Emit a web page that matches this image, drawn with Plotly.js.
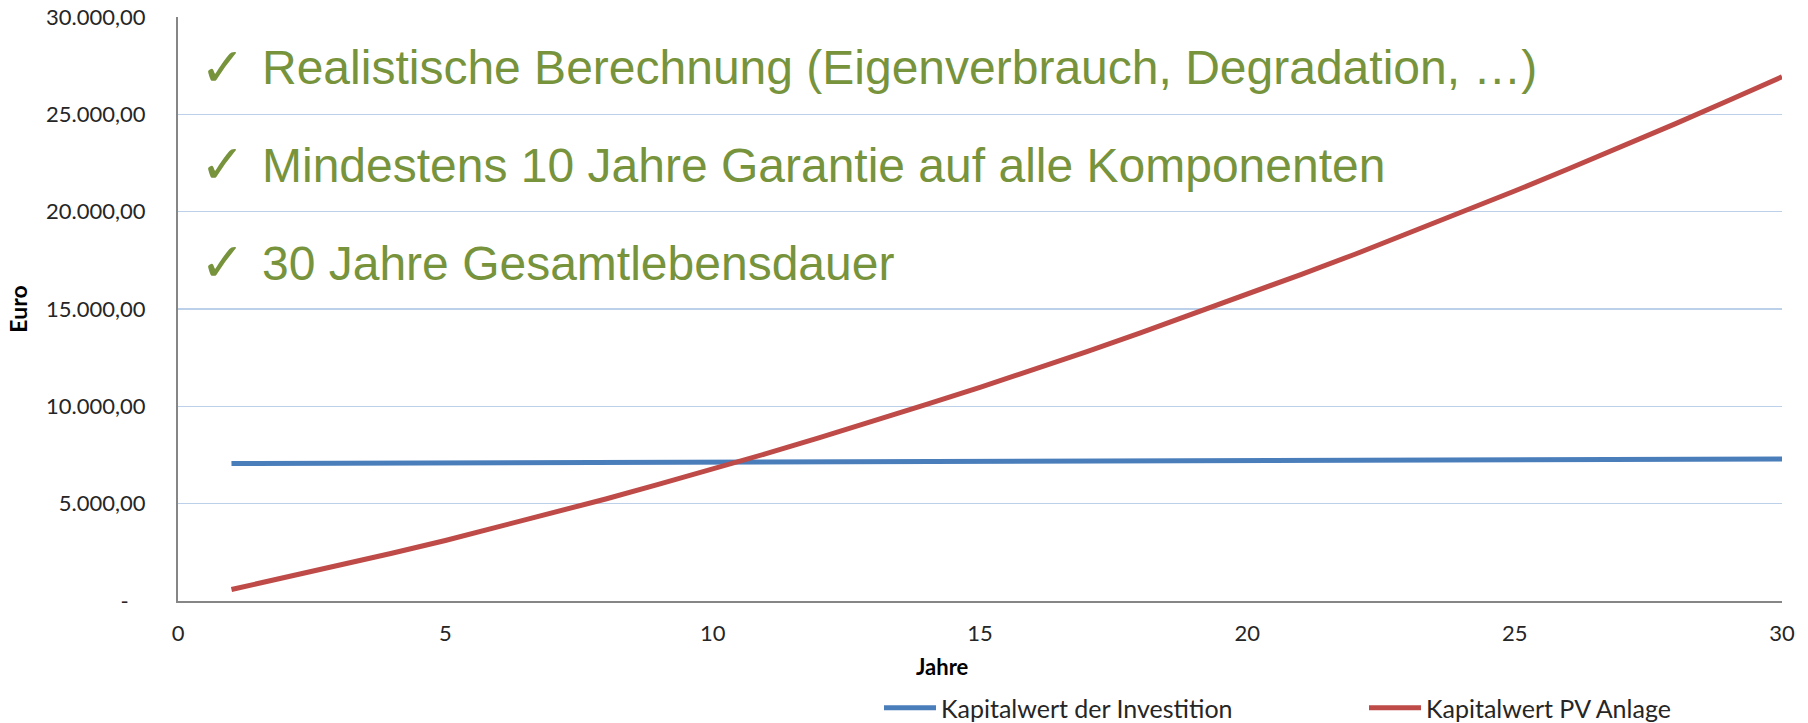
<!DOCTYPE html>
<html>
<head>
<meta charset="utf-8">
<script src="https://cdn.plot.ly/plotly-3.0.1.min.js"></script>
<style>html,body{margin:0;padding:0;background:#fff;}#chart{width:1808px;height:723px;}</style>
</head>
<body>
<div id="chart"></div>
<script>
// Data
var jahre = [1,2,3,4,5,6,7,8,9,10,11,12,13,14,15,16,17,18,19,20,21,22,23,24,25,26,27,28,29,30];
var kapitalwertInvestition = [7060,7068,7075,7083,7091,7099,7106,7114,7122,7130,7137,7145,7153,7161,7168,7176,7184,7192,7199,7207,7215,7223,7230,7238,7246,7254,7261,7269,7277,7290];
var kapitalwertPV = [590,1190,1810,2450,3110,3800,4510,5240,6000,6770,7570,8390,9230,10100,10980,11880,12810,13770,14750,15750,16770,17800,18870,19950,21060,22190,23340,24510,25710,26930];
var seriesNames = ['Kapitalwert der Investition', 'Kapitalwert PV Anlage'];
var yTickVals = [0,5000,10000,15000,20000,25000,30000];
var yTickText = ['-\u00a0\u00a0\u00a0','5.000,00','10.000,00','15.000,00','20.000,00','25.000,00','30.000,00'];
var xTickVals = [0,5,10,15,20,25,30];
var bulletTexts = [
  'Realistische Berechnung (Eigenverbrauch, Degradation, \u2026)',
  'Mindestens 10 Jahre Garantie auf alle Komponenten',
  '30 Jahre Gesamtlebensdauer'
];
var xTitle = 'Jahre';
var yTitle = 'Euro';

var W = 1808, H = 723;
var mL = 178, mR = 26, mT = 17, mB = 122;
var pw = W - mL - mR, ph = H - mT - mB;
function px(x){ return (x - mL) / pw; }
function py(y){ return (H - mB - y) / ph; }

var green = '#77933C';
var tickFont = {family: 'Lato, "Open Sans", sans-serif', size: 22, color: '#262626'};
var legFont = {family: 'Lato, sans-serif', size: 25, color: '#262626'};

var traces = [
  {x: jahre, y: kapitalwertInvestition, type: 'scatter', mode: 'lines', name: seriesNames[0],
   line: {color: '#4A7EBB', width: 5}, legend: 'legend'},
  {x: jahre, y: kapitalwertPV, type: 'scatter', mode: 'lines', name: seriesNames[1],
   line: {color: '#BE4B48', width: 5}, legend: 'legend2'}
];

var annotations = [];
var checkY = [67, 164.5, 262];
var textY = [67.5, 165.5, 263];
for (var i = 0; i < bulletTexts.length; i++) {
  annotations.push({xref: 'paper', yref: 'paper', x: px(222), y: py(checkY[i]), xanchor: 'center', yanchor: 'middle',
    text: '\u2713', showarrow: false, font: {family: '"DejaVu Sans", sans-serif', size: 54, color: green}});
  annotations.push({xref: 'paper', yref: 'paper', x: px(260), y: py(textY[i]), xanchor: 'left', yanchor: 'middle',
    text: bulletTexts[i], showarrow: false, font: {family: '"Liberation Sans", Arial, sans-serif', size: 48, color: green}});
}
annotations.push({xref: 'paper', yref: 'paper', x: px(942), y: py(667), xanchor: 'center', yanchor: 'middle',
  text: '<b>' + xTitle + '</b>', showarrow: false, font: {family: 'Lato, sans-serif', size: 22, color: '#000'}});

var legBase = {orientation: 'h', xanchor: 'left', yanchor: 'middle', y: py(708),
  font: legFont, itemwidth: 52, bgcolor: 'rgba(0,0,0,0)', borderwidth: 0};

var layout = {
  width: W, height: H,
  margin: {l: mL, r: mR, t: mT, b: mB, pad: 0, autoexpand: false},
  paper_bgcolor: '#fff', plot_bgcolor: '#fff',
  showlegend: true,
  legend: Object.assign({}, legBase, {x: px(879)}),
  legend2: Object.assign({}, legBase, {x: px(1364)}),
  xaxis: {range: [0, 30], tickvals: xTickVals, ticktext: xTickVals.map(String), showgrid: false, zeroline: false,
    showline: true, linecolor: '#868686', linewidth: 2, ticks: '', tickfont: tickFont, ticklabelstandoff: 12,
    fixedrange: true},
  yaxis: {range: [0, 30000], tickvals: yTickVals, ticktext: yTickText, showgrid: true, gridcolor: '#BDD0EA', gridwidth: 1.5,
    zeroline: false, showline: true, linecolor: '#868686', linewidth: 2, ticks: '', tickfont: tickFont,
    ticklabelstandoff: 26, fixedrange: true,
    title: {text: '<b>' + yTitle + '</b>', font: {family: 'Lato, sans-serif', size: 23, color: '#000'}, standoff: 12}},
  annotations: annotations
};

Plotly.newPlot('chart', traces, layout, {displayModeBar: false, staticPlot: true});
</script>
</body>
</html>
